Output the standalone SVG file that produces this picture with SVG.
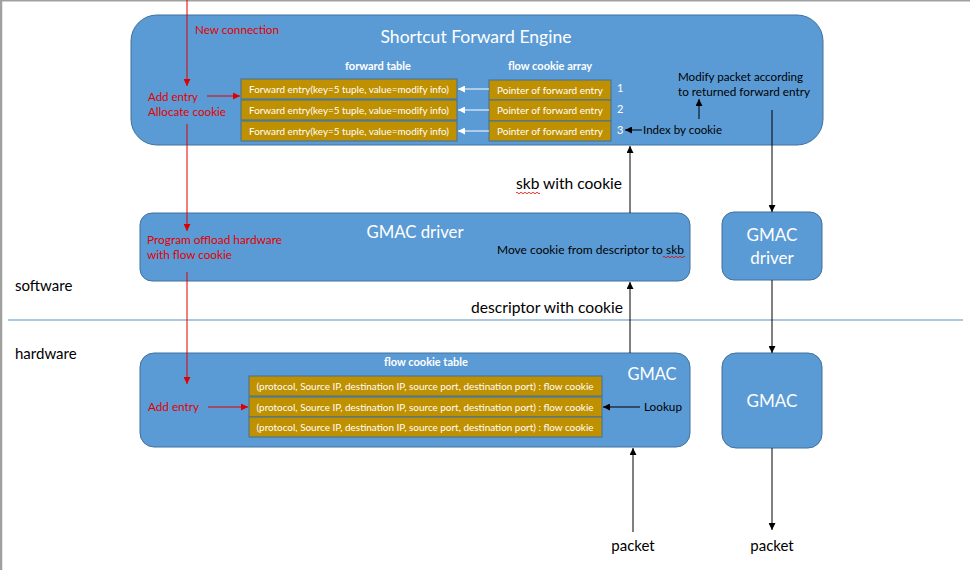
<svg xmlns="http://www.w3.org/2000/svg" width="970" height="570" viewBox="0 0 970 570">
<defs>
<marker id="ab" viewBox="0 0 10 10" refX="10" refY="5" markerWidth="7" markerHeight="7" markerUnits="userSpaceOnUse" orient="auto"><path d="M0,0 L10,5 L0,10 z" fill="#000"/></marker>
<marker id="ar" viewBox="0 0 10 10" refX="10" refY="5" markerWidth="7" markerHeight="7" markerUnits="userSpaceOnUse" orient="auto"><path d="M0,0 L10,5 L0,10 z" fill="#e00000"/></marker>
<marker id="aw" viewBox="0 0 10 10" refX="10" refY="5" markerWidth="7" markerHeight="7" markerUnits="userSpaceOnUse" orient="auto"><path d="M0,0 L10,5 L0,10 z" fill="#fff"/></marker>
</defs>
<style>
text{font-family:Lato,"Liberation Sans",sans-serif}
.box{fill:#5b9bd5;stroke:#41719c;stroke-width:1}
.cell{fill:#bf9000;stroke:#41719c;stroke-width:1}
.ct{fill:#fff;font-size:9.5px;text-anchor:middle}
.wt{fill:#fff}
.hd{fill:#fff;font-weight:bold;font-size:11px;text-anchor:middle}
.red{fill:#e00000;font-size:12px}
.blk{fill:#000}
.lb{stroke:#000;stroke-width:1;fill:none;marker-end:url(#ab)}
.lr{stroke:#e00000;stroke-width:1;fill:none}
.lw{stroke:#fff;stroke-width:1;fill:none;marker-end:url(#aw)}
.sq{stroke:#e00000;stroke-width:0.8;fill:none}
</style>
<rect x="0" y="0" width="970" height="570" fill="#fff"/>
<line x1="0" y1="0.5" x2="970" y2="0.5" stroke="#a0a0a0" stroke-width="2"/>
<line x1="1" y1="0" x2="1" y2="570" stroke="#a0a0a0" stroke-width="2.5"/>
<line x1="8" y1="320" x2="963" y2="320" stroke="#5b8fc0" stroke-width="1"/>
<text x="15" y="291" font-size="15" class="blk">software</text>
<text x="15" y="359" font-size="15" class="blk">hardware</text>

<g id="sfe">
<rect class="box" x="131" y="15" width="692" height="130" rx="26"/>
<text class="wt" x="476" y="43" font-size="17" text-anchor="middle" textLength="191" lengthAdjust="spacingAndGlyphs">Shortcut Forward Engine</text>
<text class="hd" x="378" y="70">forward table</text>
<text class="hd" x="550" y="70">flow cookie array</text>
<rect class="cell" x="241" y="79" width="216" height="20"/>
<rect class="cell" x="241" y="100" width="216" height="20"/>
<rect class="cell" x="241" y="121" width="216" height="20"/>
<text class="ct" x="349" y="93" textLength="200" lengthAdjust="spacingAndGlyphs">Forward entry(key=5 tuple, value=modify info)</text>
<text class="ct" x="349" y="114" textLength="200" lengthAdjust="spacingAndGlyphs">Forward entry(key=5 tuple, value=modify info)</text>
<text class="ct" x="349" y="135" textLength="200" lengthAdjust="spacingAndGlyphs">Forward entry(key=5 tuple, value=modify info)</text>
<rect class="cell" x="489" y="80" width="122" height="20"/>
<rect class="cell" x="489" y="100" width="122" height="21"/>
<rect class="cell" x="489" y="121" width="122" height="20"/>
<text class="ct" x="550" y="94" textLength="106" lengthAdjust="spacingAndGlyphs">Pointer of forward entry</text>
<text class="ct" x="550" y="114" textLength="106" lengthAdjust="spacingAndGlyphs">Pointer of forward entry</text>
<text class="ct" x="550" y="135" textLength="106" lengthAdjust="spacingAndGlyphs">Pointer of forward entry</text>
<text class="wt" x="617" y="92" font-size="11">1</text>
<text class="wt" x="617" y="113" font-size="11">2</text>
<text class="wt" x="617" y="134" font-size="11">3</text>
<text class="blk" x="643" y="134" font-size="11.5" textLength="79" lengthAdjust="spacingAndGlyphs">Index by cookie</text>
<text class="blk" x="678" y="81" font-size="11.5" textLength="125" lengthAdjust="spacingAndGlyphs">Modify packet according</text>
<text class="blk" x="678" y="96" font-size="11.5" textLength="132" lengthAdjust="spacingAndGlyphs">to returned forward entry</text>
<text class="red" x="148" y="101" textLength="50" lengthAdjust="spacingAndGlyphs">Add entry</text>
<text class="red" x="148" y="116" textLength="78" lengthAdjust="spacingAndGlyphs">Allocate cookie</text>
</g>

<g id="gmac-driver">
<rect class="box" x="140" y="213" width="550" height="68" rx="12"/>
<text class="wt" x="415" y="238" font-size="17" text-anchor="middle" textLength="97" lengthAdjust="spacingAndGlyphs">GMAC driver</text>
<text class="red" x="147" y="244" textLength="135" lengthAdjust="spacingAndGlyphs">Program offload hardware</text>
<text class="red" x="147" y="259" textLength="85" lengthAdjust="spacingAndGlyphs">with flow cookie</text>
<text class="blk" x="497" y="254" font-size="11.5" textLength="187" lengthAdjust="spacingAndGlyphs">Move cookie from descriptor to skb</text>
<path class="sq" d="M663,257 q1,-1.5 2,0 t2,0 t2,0 t2,0 t2,0 t2,0 t2,0 t2,0 t2,0 t2,0 t2,0"/>
</g>

<g id="gmac">
<rect class="box" x="140" y="353" width="550" height="94" rx="14"/>
<text class="wt" x="652" y="380" font-size="17" text-anchor="middle" textLength="49" lengthAdjust="spacingAndGlyphs">GMAC</text>
<text class="hd" x="426" y="366">flow cookie table</text>
<rect class="cell" x="249" y="376" width="353" height="20"/>
<rect class="cell" x="249" y="397" width="353" height="20"/>
<rect class="cell" x="249" y="417" width="353" height="20"/>
<text class="ct" x="425" y="390" textLength="337" lengthAdjust="spacingAndGlyphs">(protocol, Source IP, destination IP, source port, destination port) : flow cookie</text>
<text class="ct" x="425" y="411" textLength="337" lengthAdjust="spacingAndGlyphs">(protocol, Source IP, destination IP, source port, destination port) : flow cookie</text>
<text class="ct" x="425" y="431" textLength="337" lengthAdjust="spacingAndGlyphs">(protocol, Source IP, destination IP, source port, destination port) : flow cookie</text>
<text class="blk" x="644" y="411" font-size="11.5" textLength="38" lengthAdjust="spacingAndGlyphs">Lookup</text>
<text class="red" x="148" y="411" textLength="51" lengthAdjust="spacingAndGlyphs">Add entry</text>
</g>

<g id="gmac-driver-tx">
<rect class="box" x="722" y="212" width="100" height="68" rx="12"/>
<text class="wt" x="772" y="241" font-size="17" text-anchor="middle">GMAC</text>
<text class="wt" x="772" y="264" font-size="17" text-anchor="middle">driver</text>
</g>

<g id="gmac-tx">
<rect class="box" x="722" y="353" width="100" height="95" rx="14"/>
<text class="wt" x="772" y="407" font-size="17" text-anchor="middle">GMAC</text>
</g>

<g id="labels">
<text class="red" x="195" y="34" textLength="84" lengthAdjust="spacingAndGlyphs" style="font-size:11px">New connection</text>
<text class="blk" x="516" y="189" font-size="15" textLength="106" lengthAdjust="spacingAndGlyphs">skb with cookie</text>
<path class="sq" d="M516,193 q1,-1.5 2,0 t2,0 t2,0 t2,0 t2,0 t2,0 t2,0 t2,0 t2,0 t2,0 t2,0 t2,0"/>
<text class="blk" x="471" y="313" font-size="15" textLength="152" lengthAdjust="spacingAndGlyphs">descriptor with cookie</text>
<text class="blk" x="633" y="551" font-size="15" text-anchor="middle">packet</text>
<text class="blk" x="772" y="551" font-size="15" text-anchor="middle">packet</text>
</g>

<g id="connectors">
<line class="lr" x1="187" y1="0" x2="187" y2="86" marker-end="url(#ar)"/>
<line class="lr" x1="207" y1="96" x2="240" y2="96" marker-end="url(#ar)"/>
<line class="lr" x1="187" y1="124" x2="187" y2="231" marker-end="url(#ar)"/>
<line class="lr" x1="187" y1="272" x2="187" y2="384" marker-end="url(#ar)"/>
<line class="lr" x1="208" y1="407" x2="248" y2="407" marker-end="url(#ar)"/>
<line class="lw" x1="489" y1="89" x2="458" y2="89"/>
<line class="lw" x1="489" y1="110" x2="458" y2="110"/>
<line class="lw" x1="489" y1="131" x2="458" y2="131"/>
<line class="lb" x1="642" y1="130" x2="625" y2="130"/>
<line class="lb" x1="699" y1="119" x2="699" y2="99"/>
<line class="lb" x1="772" y1="110" x2="772" y2="212"/>
<line class="lb" x1="772" y1="280" x2="772" y2="353"/>
<line class="lb" x1="772" y1="448" x2="772" y2="530"/>
<line class="lb" x1="633" y1="532" x2="633" y2="448"/>
<line class="lb" x1="630" y1="353" x2="630" y2="282"/>
<line class="lb" x1="630" y1="213" x2="630" y2="146"/>
<line class="lb" x1="640" y1="407" x2="603" y2="407"/>
</g>
</svg>
